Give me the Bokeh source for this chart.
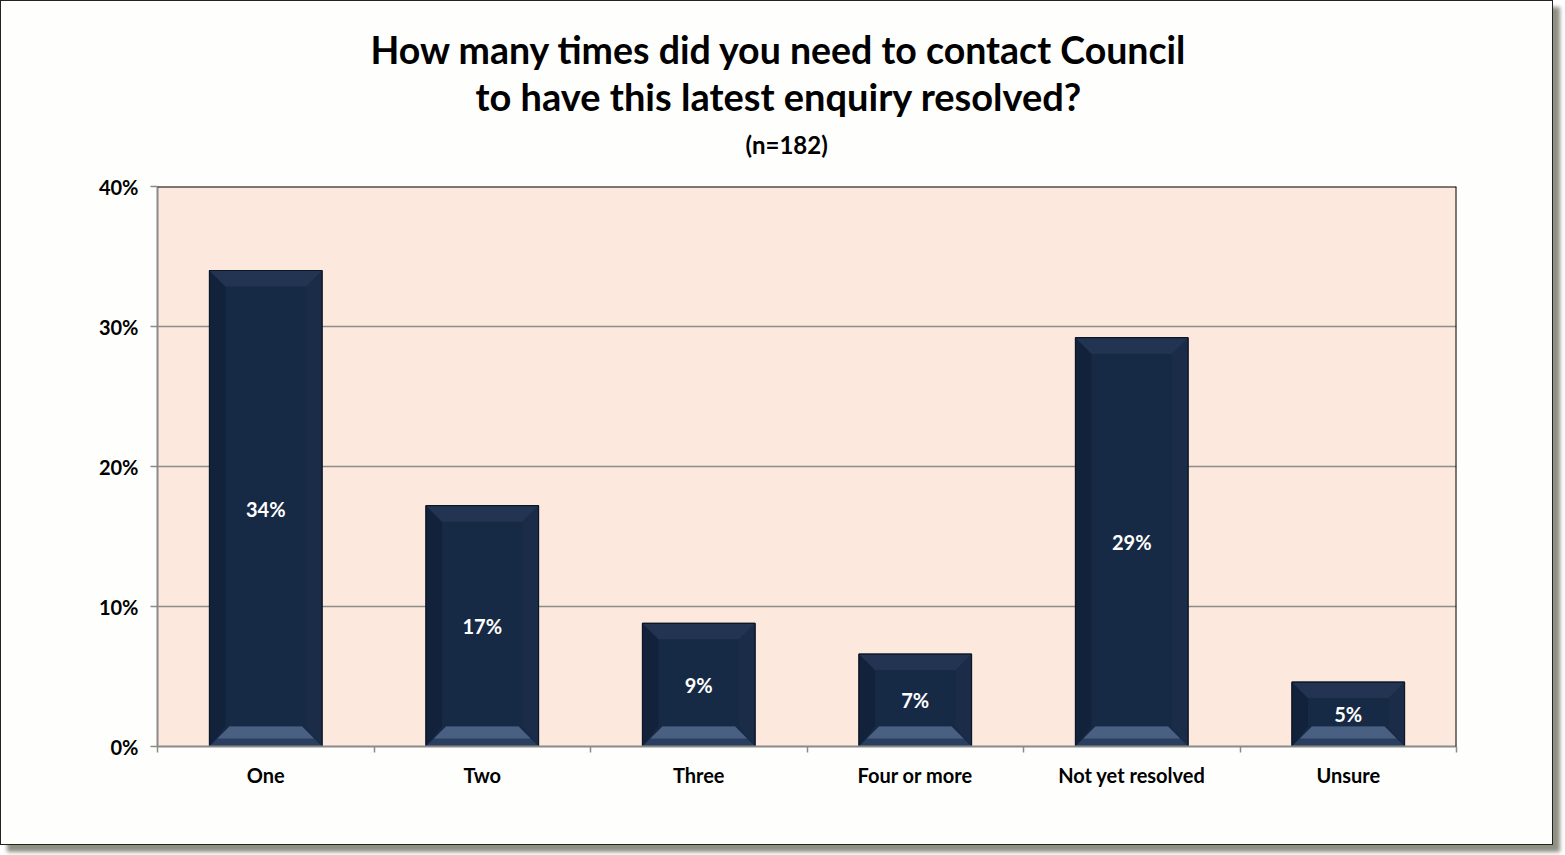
from bokeh.plotting import figure
from bokeh.models import (Range1d, FixedTicker, PrintfTickFormatter, Span, Title,
                          ColumnDataSource)
from bokeh.core.properties import value
from bokeh.embed import file_html
from bokeh.resources import INLINE

categories = ["One", "Two", "Three", "Four or more", "Not yet resolved", "Unsure"]
percent = [34.0, 17.2, 8.8, 6.6, 29.2, 4.6]
bar_labels = ["34%", "17%", "9%", "7%", "29%", "5%"]
y_ticks = [0, 10, 20, 30, 40]
title_lines = ["How many times did you need to contact Council",
               "to have this latest enquiry resolved?"]
subtitle = "(n=182)"

W, H = 1553, 845
ML, MR, MT, MB = 156, 98, 185, 100
FONT = "Lato"

p = figure(width=W, height=H, output_backend="svg", toolbar_location=None,
           x_range=Range1d(0, len(categories)), y_range=Range1d(0, 40),
           min_border_left=ML, min_border_right=MR, min_border_top=MT, min_border_bottom=MB,
           background_fill_color="#fce8dc", border_fill_color="#fefefc",
           outline_line_color=None,
           styles={"border": "1.5px solid #222222", "box-shadow": "7px 7px 4px #8e9084"})

px_x = (W - ML - MR) / len(categories)
px_y = (H - MT - MB) / 40.0

# grid
p.xgrid.visible = False
p.ygrid.ticker = FixedTicker(ticks=y_ticks[1:-1])
p.ygrid.grid_line_color = "#8c8c8c"
p.ygrid.grid_line_width = 1.5

# y axis
p.yaxis.ticker = FixedTicker(ticks=y_ticks)
p.yaxis.formatter = PrintfTickFormatter(format="%d%%")
p.yaxis.axis_line_color = "#8a8a8a"
p.yaxis.axis_line_width = 2
p.yaxis.major_tick_line_color = "#8a8a8a"
p.yaxis.major_tick_line_width = 1.5
p.yaxis.major_tick_out = 7
p.yaxis.major_tick_in = 0
p.yaxis.minor_tick_line_color = None
p.yaxis.major_label_standoff = 12
p.yaxis.major_label_text_font = FONT
p.yaxis.major_label_text_font_style = "bold"
p.yaxis.major_label_text_font_size = "20px"
p.yaxis.major_label_text_color = "#000000"

# x axis
centers = [i + 0.5 for i in range(len(categories))]
p.xaxis.ticker = FixedTicker(ticks=centers, minor_ticks=list(range(len(categories) + 1)))
p.xaxis.major_label_overrides = {c: name for c, name in zip(centers, categories)}
p.xaxis.axis_line_color = "#8a8a8a"
p.xaxis.axis_line_width = 2
p.xaxis.major_tick_line_color = None
p.xaxis.minor_tick_line_color = "#8a8a8a"
p.xaxis.minor_tick_line_width = 1.5
p.xaxis.minor_tick_out = 6
p.xaxis.minor_tick_in = 0
p.xaxis.major_label_standoff = 10
p.xaxis.major_label_text_font = FONT
p.xaxis.major_label_text_font_style = "bold"
p.xaxis.major_label_text_font_size = "20px"
p.xaxis.major_label_text_color = "#000000"

# top and right frame lines
p.add_layout(Span(location=40, dimension="width", line_color="#000000", line_width=2))
p.add_layout(Span(location=len(categories), dimension="height", line_color="#000000", line_width=2))

# bars
bw = 0.52
hw = bw / 2
src = ColumnDataSource(dict(x=centers, top=percent, cat=categories, lab=bar_labels,
                            ly=[v / 2 for v in percent]))
p.vbar(x="x", top="top", width=bw, source=src, fill_color="#172a45",
       line_color="#0b1627", line_width=1)

# bevel effect
bev = 20
dx = bev / px_x
dy = bev / px_y
bot_x, bot_y, band_x, band_y, top_x, top_y, lft_x, lft_y, rgt_x, rgt_y = ([] for _ in range(10))
for c, v in zip(centers, percent):
    d = min(dy, v / 2.2)
    ddx = dx * d / dy
    l, r = c - hw, c + hw
    bot_x.append([l, r, r - ddx, l + ddx]); bot_y.append([0, 0, d, d])
    k = 0.4
    band_x.append([l + ddx * k, r - ddx * k, r - ddx, l + ddx]); band_y.append([d * k, d * k, d, d])
    td = d * 0.8
    tdx = ddx * 0.8
    top_x.append([l, r, r - tdx, l + tdx]); top_y.append([v, v, v - td, v - td])
    lft_x.append([l, l + tdx, l + tdx, l]); lft_y.append([0, d, v - td, v])
    rgt_x.append([r, r - tdx, r - tdx, r]); rgt_y.append([0, d, v - td, v])

p.patches(lft_x, lft_y, fill_color="#12223b", line_color=None)
p.patches(rgt_x, rgt_y, fill_color="#1a2c48", line_color=None)
p.patches(top_x, top_y, fill_color="#223451", line_color=None)
p.patches(bot_x, bot_y, fill_color="#2a3f60", line_color=None)
p.patches(band_x, band_y, fill_color="#4a6082", line_color=None)
p.vbar(x="x", top="top", width=bw, source=src, fill_color=None,
       line_color="#0b1627", line_width=1.2)

p.text(x="x", y="ly", text="lab", source=src, text_color="#ffffff",
       text_font=value(FONT), text_font_style="bold", text_font_size="20px",
       text_align="center", text_baseline="middle")

# titles (added from the plot outward); first one is an empty spacer
for txt, size, so, off in [(" ", "1px", 25, 0), (subtitle, "24px", 0, 588),
                           (title_lines[1], "38px", 18, 318),
                           (title_lines[0], "37.5px", -20, 213)]:
    p.add_layout(Title(text=txt, align="left", offset=off, standoff=so,
                       text_font=FONT, text_font_style="bold", text_font_size=size,
                       text_color="#000000"), "above")

open("out.html", "w").write(file_html(p, INLINE))
